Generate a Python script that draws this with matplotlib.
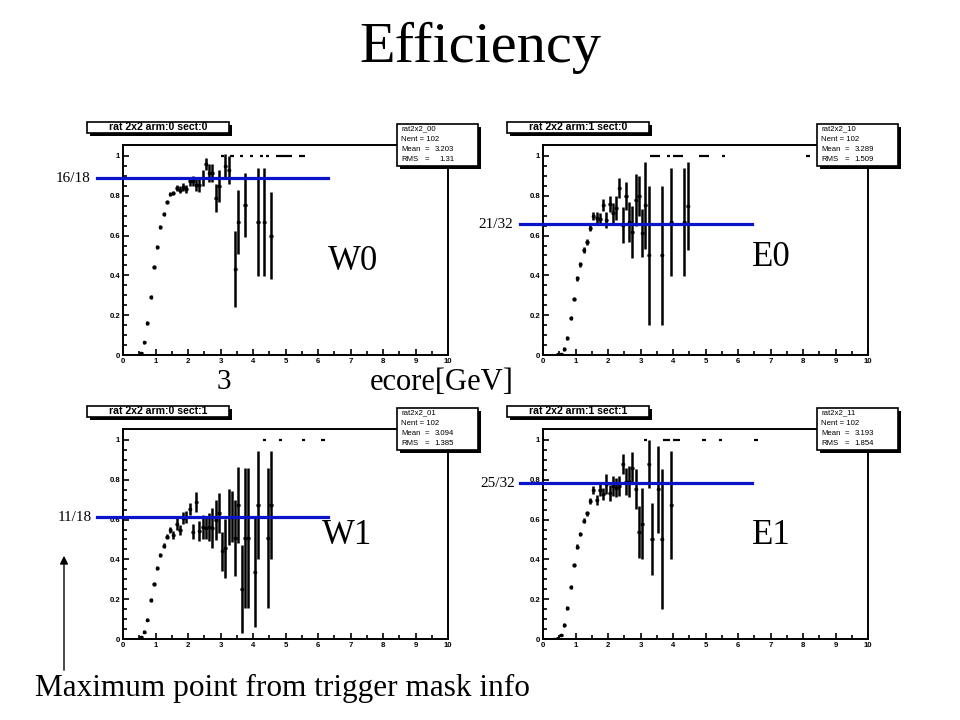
import numpy as np
import matplotlib.pyplot as plt
import matplotlib.transforms as mtransforms
from matplotlib.patches import Rectangle
from matplotlib.ticker import FixedLocator, FuncFormatter

plt.rcParams['font.family'] = ['Liberation Sans', 'DejaVu Sans']

# W0  (arm 0, sect 0)
w0_x = [0.55, 0.65, 0.75, 0.85, 0.95, 1.05, 1.15, 1.25, 1.35, 1.45, 1.55, 1.65, 1.75, 1.85, 1.95,
        2.05, 2.15, 2.25, 2.35, 2.45, 2.55, 2.65, 2.75, 2.85, 2.95, 3.15, 3.25, 3.45, 3.55, 3.75,
        4.15, 4.35, 4.55]
w0_y = [0.01, 0.064, 0.159, 0.289, 0.44, 0.542, 0.642, 0.709, 0.768, 0.811, 0.814, 0.841, 0.831,
        0.844, 0.833, 0.873, 0.875, 0.853, 0.853, 0.89, 0.958, 0.916, 0.916, 0.789, 0.85, 0.948,
        0.928, 0.431, 0.669, 0.753, 0.669, 0.669, 0.60]
w0_err = [0.005, 0.008, 0.01, 0.01, 0.01, 0.01, 0.01, 0.01, 0.01, 0.01, 0.012, 0.015, 0.018, 0.02,
          0.02, 0.022, 0.025, 0.03, 0.035, 0.04, 0.03, 0.045, 0.045, 0.07, 0.08, 0.06, 0.07, 0.19,
          0.16, 0.16, 0.27, 0.27, 0.22]
w0_full = [3.05, 3.35, 3.65, 3.95, 4.25, 4.45, 4.75, 4.85, 4.95, 5.05, 5.15, 5.45, 5.55]

# E0  (arm 1, sect 0)
e0_x = [0.45, 0.55, 0.65, 0.75, 0.85, 0.95, 1.05, 1.15, 1.25, 1.35, 1.45, 1.55, 1.65, 1.75, 1.85,
        1.95, 2.05, 2.15, 2.25, 2.35, 2.45, 2.55, 2.65, 2.75, 2.85, 2.95, 3.05, 3.15, 3.25, 3.65,
        3.95, 4.35, 4.45]
e0_y = [0.003, 0.007, 0.03, 0.087, 0.187, 0.281, 0.385, 0.455, 0.527, 0.567, 0.639, 0.697, 0.686,
        0.682, 0.753, 0.677, 0.757, 0.714, 0.74, 0.84, 0.652, 0.80, 0.669, 0.619, 0.78, 0.80,
        0.614, 0.752, 0.50, 0.50, 0.667, 0.667, 0.75]
e0_err = [0.003, 0.005, 0.008, 0.01, 0.01, 0.01, 0.012, 0.012, 0.015, 0.015, 0.015, 0.02, 0.03,
          0.03, 0.03, 0.04, 0.04, 0.05, 0.06, 0.05, 0.09, 0.07, 0.1, 0.13, 0.13, 0.1, 0.12, 0.22,
          0.35, 0.35, 0.27, 0.27, 0.22]
e0_full = [3.35, 3.45, 3.55, 3.85, 4.05, 4.15, 4.25, 4.85, 4.95, 5.05, 5.55, 8.15]

# W1  (arm 0, sect 1)
w1_x = [0.55, 0.65, 0.75, 0.85, 0.95, 1.05, 1.15, 1.25, 1.35, 1.45, 1.55, 1.65, 1.75, 1.85, 1.95,
        2.05, 2.15, 2.25, 2.35, 2.45, 2.55, 2.65, 2.75, 2.85, 2.95, 3.05, 3.15, 3.25, 3.35, 3.45,
        3.55, 3.65, 3.75, 3.85, 4.05, 4.15, 4.45, 4.55]
w1_y = [0.008, 0.037, 0.097, 0.196, 0.276, 0.356, 0.423, 0.468, 0.513, 0.547, 0.523, 0.577, 0.547,
        0.607, 0.614, 0.652, 0.54, 0.686, 0.543, 0.564, 0.56, 0.564, 0.557, 0.597, 0.635, 0.44,
        0.455, 0.614, 0.615, 0.507, 0.673, 0.25, 0.507, 0.507, 0.338, 0.673, 0.507, 0.673]
w1_err = [0.004, 0.006, 0.008, 0.01, 0.01, 0.01, 0.01, 0.012, 0.012, 0.015, 0.02, 0.03, 0.025,
          0.03, 0.03, 0.03, 0.04, 0.05, 0.05, 0.06, 0.06, 0.07, 0.1, 0.1, 0.1, 0.1, 0.15, 0.14,
          0.13, 0.19, 0.19, 0.22, 0.35, 0.35, 0.28, 0.27, 0.35, 0.27]
w1_full = [4.35, 4.85, 5.55, 6.15]

# E1  (arm 1, sect 1)
e1_x = [0.35, 0.45, 0.55, 0.65, 0.75, 0.85, 0.95, 1.05, 1.15, 1.25, 1.35, 1.45, 1.55, 1.65, 1.75,
        1.85, 1.95, 2.05, 2.15, 2.25, 2.35, 2.45, 2.55, 2.65, 2.75, 2.85, 2.95, 3.05, 3.25, 3.35,
        3.55, 3.65, 3.95]
e1_y = [0.0, 0.003, 0.02, 0.07, 0.155, 0.263, 0.371, 0.463, 0.527, 0.594, 0.632, 0.694, 0.749,
        0.697, 0.747, 0.727, 0.778, 0.732, 0.769, 0.761, 0.769, 0.878, 0.791, 0.791, 0.861, 0.753,
        0.538, 0.58, 0.878, 0.502, 0.752, 0.502, 0.673]
e1_err = [0.0, 0.003, 0.006, 0.008, 0.01, 0.01, 0.01, 0.012, 0.012, 0.012, 0.012, 0.015, 0.02,
          0.025, 0.03, 0.03, 0.05, 0.04, 0.05, 0.05, 0.05, 0.05, 0.07, 0.08, 0.08, 0.1, 0.13, 0.18,
          0.12, 0.18, 0.22, 0.35, 0.27]
e1_full = [3.15, 3.75, 3.85, 4.05, 4.15, 4.95, 5.45, 6.55]

# trigger mask maxima
w0_max, e0_max, w1_max, e1_max = 16 / 18, 21 / 32, 11 / 18, 25 / 32
w0_max_txt, e0_max_txt, w1_max_txt, e1_max_txt = "16/18", "21/32", "11/18", "25/32"

W, H = 960, 720
fig = plt.figure(figsize=(9.6, 7.2), dpi=100)
serif = ['Liberation Serif', 'DejaVu Serif']
blue = '#0a14c8'


def fx(p):
    return p / W


def fy(p):
    return 1 - p / H


def root_box(x0, y0, x1, y1):
    # white box with a black drop shadow (pixel coords, origin top-left)
    fig.add_artist(Rectangle((fx(x0 + 3), fy(y1 + 3)), (x1 - x0) / W, (y1 - y0) / H,
                             transform=fig.transFigure, facecolor='black', edgecolor='none', zorder=4))
    fig.add_artist(Rectangle((fx(x0), fy(y1)), (x1 - x0) / W, (y1 - y0) / H,
                             transform=fig.transFigure, facecolor='white', edgecolor='black',
                             lw=1.2, zorder=5))


def panel(ox, oy, x, y, err, full, title, hname, mean, rms, ymax, ymax_txt,
          line_px, lab_px, name, name_px):
    ax = fig.add_axes([fx(123 + ox), fy(355 + oy), 325 / W, 210 / H])
    ax.errorbar(x, y, xerr=0.05, yerr=err, fmt='o', ms=1.6, color='black',
                elinewidth=1.8, capsize=0)
    ax.errorbar(full, np.ones(len(full)), xerr=0.05, fmt='none', ecolor='black', elinewidth=1.6)
    ax.set_xlim(0, 10)
    ax.set_ylim(0, 1.055)
    ax.xaxis.set_major_locator(FixedLocator(np.arange(0, 11, 1)))
    ax.xaxis.set_minor_locator(FixedLocator(np.arange(0, 10.01, 0.5)))
    ax.yaxis.set_major_locator(FixedLocator(np.arange(0, 1.01, 0.2)))
    ax.yaxis.set_minor_locator(FixedLocator(np.arange(0, 1.001, 0.05)))
    ax.yaxis.set_major_formatter(FuncFormatter(lambda v, p: f'{v:g}'))
    ax.tick_params(which='both', direction='in', width=1.2, labelsize=5.6, pad=2)
    ax.tick_params(which='major', length=4.5)
    ax.tick_params(which='minor', length=3)
    for lab in ax.get_xticklabels() + ax.get_yticklabels():
        lab.set_fontweight('bold')
    for s in ax.spines.values():
        s.set_linewidth(1.4)

    # slide annotation: blue line at the trigger-mask maximum
    tr = mtransforms.blended_transform_factory(fig.transFigure, ax.transData)
    ax.plot([fx(line_px[0]), fx(line_px[1])], [ymax, ymax], color=blue, lw=2.3,
            transform=tr, clip_on=False, zorder=6)
    ax.text(fx(lab_px), ymax, ymax_txt, transform=tr, ha='right', va='center',
            fontsize=11, family=serif)
    fig.text(fx(name_px[0]), fy(name_px[1]), name, ha='left', va='center',
             fontsize=25, family=serif)

    # ROOT title box
    root_box(87 + ox, 122 + oy, 229 + ox, 133 + oy)
    fig.text(fx(158 + ox), fy(127.5 + oy), title, ha='center', va='center',
             fontsize=7.6, weight='bold', zorder=6)

    # ROOT stats box
    root_box(397 + ox, 124 + oy, 478 + ox, 166 + oy)
    rows = [hname, 'Nent = 102', 'Mean', 'RMS']
    vals = ['', '', f'{mean}', f'{rms}']
    for i, (r, v) in enumerate(zip(rows, vals)):
        yy = fy(129 + oy + i * 10.3)
        fig.text(fx(401 + ox), yy, r, ha='left', va='center', fontsize=5.6, zorder=6)
        if v:
            fig.text(fx(425 + ox), yy, '=', ha='left', va='center', fontsize=5.6, zorder=6)
            fig.text(fx(454 + ox), yy, v, ha='right', va='center', fontsize=5.6, zorder=6)
    return ax


panel(0, 0, w0_x, w0_y, w0_err, w0_full, 'rat 2x2 arm:0 sect:0', 'rat2x2_00', '3.203', '1.31',
      w0_max, w0_max_txt, (97, 328), 90, 'W0', (328, 262))
panel(420, 0, e0_x, e0_y, e0_err, e0_full, 'rat 2x2 arm:1 sect:0', 'rat2x2_10', '3.289', '1.509',
      e0_max, e0_max_txt, (520, 752), 513, 'E0', (752, 257))
panel(0, 284, w1_x, w1_y, w1_err, w1_full, 'rat 2x2 arm:0 sect:1', 'rat2x2_01', '3.094', '1.385',
      w1_max, w1_max_txt, (97, 328), 92, 'W1', (322, 536))
panel(420, 284, e1_x, e1_y, e1_err, e1_full, 'rat 2x2 arm:1 sect:1', 'rat2x2_11', '3.193', '1.854',
      e1_max, e1_max_txt, (520, 752), 515, 'E1', (752, 536))

fig.text(0.5, fy(48), 'Efficiency', ha='center', va='center', fontsize=42, family=serif)
fig.text(fx(217), fy(382), '3', ha='left', va='center', fontsize=21, family=serif)
fig.text(fx(370), fy(382), 'ecore[GeV]', ha='left', va='center', fontsize=22, family=serif)
fig.text(fx(35), fy(688), 'Maximum point from trigger mask info', ha='left', va='center',
         fontsize=22.5, family=serif)
fig.add_artist(plt.Annotation('', xy=(fx(64), fy(553)), xytext=(fx(64), fy(673)),
                              xycoords='figure fraction', textcoords='figure fraction',
                              arrowprops=dict(arrowstyle='-|>', color='black', lw=1,
                                              mutation_scale=12)))

fig.savefig('out.png', dpi=100)
